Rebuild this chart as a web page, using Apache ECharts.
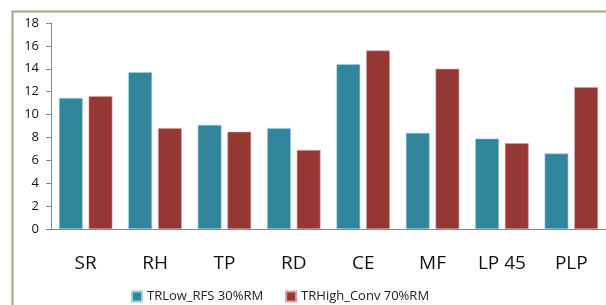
<!DOCTYPE html>
<html>
<head>
<meta charset="utf-8">
<script src="https://cdn.jsdelivr.net/npm/echarts@6/dist/echarts.min.js"></script>
<style>
  html, body { margin: 0; padding: 0; background: #fff; }
  #chart { width: 606px; height: 305px; }
</style>
</head>
<body>
<div id="chart"></div>
<script>
var categories = ['SR', 'RH', 'TP', 'RD', 'CE', 'MF', 'LP 45', 'PLP']
var lowRfs = [11.45, 13.7, 9.1, 8.8, 14.4, 8.4, 7.9, 6.6]
var highConv = [11.6, 8.8, 8.5, 6.9, 15.6, 14.0, 7.5, 12.4]

var chart = echarts.init(document.getElementById('chart'))
chart.setOption({
  animation: false,
  graphic: [{
    type: 'rect',
    shape: { x: 12.5, y: 11.5, width: 620, height: 320 },
    style: { fill: 'none', stroke: '#9aa888', lineWidth: 2 },
    silent: true
  }],
  grid: {
    left: 51,
    right: -5,
    top: 23,
    bottom: 76
  },
  legend: {
    top: 285,
    left: 126,
    itemWidth: 10,
    itemHeight: 10,
    itemGap: 22,
    icon: 'rect',
    textStyle: { fontFamily: 'Open Sans', fontSize: 13, color: '#222' },
    data: ['TRLow_RFS 30%RM', 'TRHigh_Conv 70%RM']
  },
  xAxis: {
    type: 'category',
    data: categories,
    axisLine: { lineStyle: { color: '#888' } },
    axisTick: { show: false },
    axisLabel: {
      fontFamily: 'Open Sans',
      fontSize: 19,
      color: '#111',
      margin: 25
    }
  },
  yAxis: {
    type: 'value',
    min: 0,
    max: 18,
    interval: 2,
    splitLine: { show: false },
    axisLine: { show: true, lineStyle: { color: '#888' } },
    axisTick: { show: true, length: 5, lineStyle: { color: '#888' } },
    axisLabel: {
      fontFamily: 'Open Sans',
      fontSize: 13,
      color: '#111',
      margin: 12
    }
  },
  series: [{
    name: 'TRLow_RFS 30%RM',
    type: 'bar',
    data: lowRfs,
    barGap: '25%',
    barCategoryGap: '23%',
    itemStyle: { color: '#31859c', borderColor: '#9fd0dc', borderWidth: 0.6 }
  }, {
    name: 'TRHigh_Conv 70%RM',
    type: 'bar',
    data: highConv,
    itemStyle: { color: '#953735', borderColor: '#d9a3a2', borderWidth: 0.6 }
  }]
})
</script>
</body>
</html>
